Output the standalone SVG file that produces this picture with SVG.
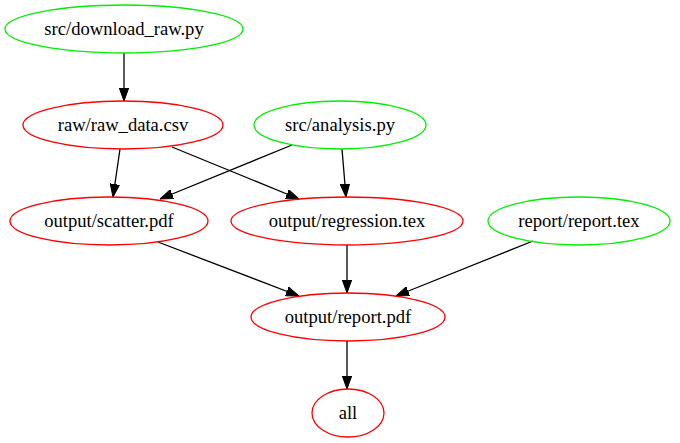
<svg xmlns="http://www.w3.org/2000/svg" width="680" height="443" viewBox="0 0 680 443">
<style>
.n ellipse{fill:none;stroke-width:1.3}
.g ellipse{stroke:#00ee00}
.r ellipse{stroke:#ff0000}
.n text{font-family:"Liberation Serif","Times New Roman",serif;font-size:18.6px;fill:#000;text-anchor:middle}
#edges path{fill:none;stroke:#000;stroke-width:1.3;marker-end:url(#ah)}
</style>
<defs>
<marker id="ah" markerWidth="13" markerHeight="10" refX="13" refY="5" orient="auto" markerUnits="userSpaceOnUse">
<path d="M0,0.3 L13,5 L0,9.7 z" fill="#000" stroke="#000" stroke-width="1"/>
</marker>
</defs>
<rect width="680" height="443" fill="#fff"/>
<g id="edges">
<path d="M124,53 L124,101"/>
<path d="M120,149 L113,197"/>
<path d="M172,147 L299,199"/>
<path d="M292,145 L160,199"/>
<path d="M342,149 L346,197"/>
<path d="M158,242 L299,296"/>
<path d="M347,245 L347,293"/>
<path d="M533,241 L396,296"/>
<path d="M347,341 L347,389"/>
</g>
<g id="src_download_raw" class="n g"><ellipse cx="124" cy="29" rx="119" ry="24"/><text x="124" y="35">src/download_raw.py</text></g>
<g id="raw_data" class="n r"><ellipse cx="123" cy="125" rx="100" ry="24"/><text x="123" y="131">raw/raw_data.csv</text></g>
<g id="src_analysis" class="n g"><ellipse cx="340" cy="125" rx="86" ry="24"/><text x="340" y="131">src/analysis.py</text></g>
<g id="output_scatter" class="n r"><ellipse cx="109" cy="221" rx="99" ry="24"/><text x="109" y="227">output/scatter.pdf</text></g>
<g id="output_regression" class="n r"><ellipse cx="347" cy="221" rx="116" ry="24"/><text x="347" y="227">output/regression.tex</text></g>
<g id="report_tex" class="n g"><ellipse cx="579" cy="221" rx="91" ry="24"/><text x="579" y="227">report/report.tex</text></g>
<g id="output_report" class="n r"><ellipse cx="348" cy="317" rx="97" ry="24"/><text x="348" y="323">output/report.pdf</text></g>
<g id="all" class="n r"><ellipse cx="348" cy="413" rx="36" ry="24"/><text x="348" y="419">all</text></g>
</svg>
